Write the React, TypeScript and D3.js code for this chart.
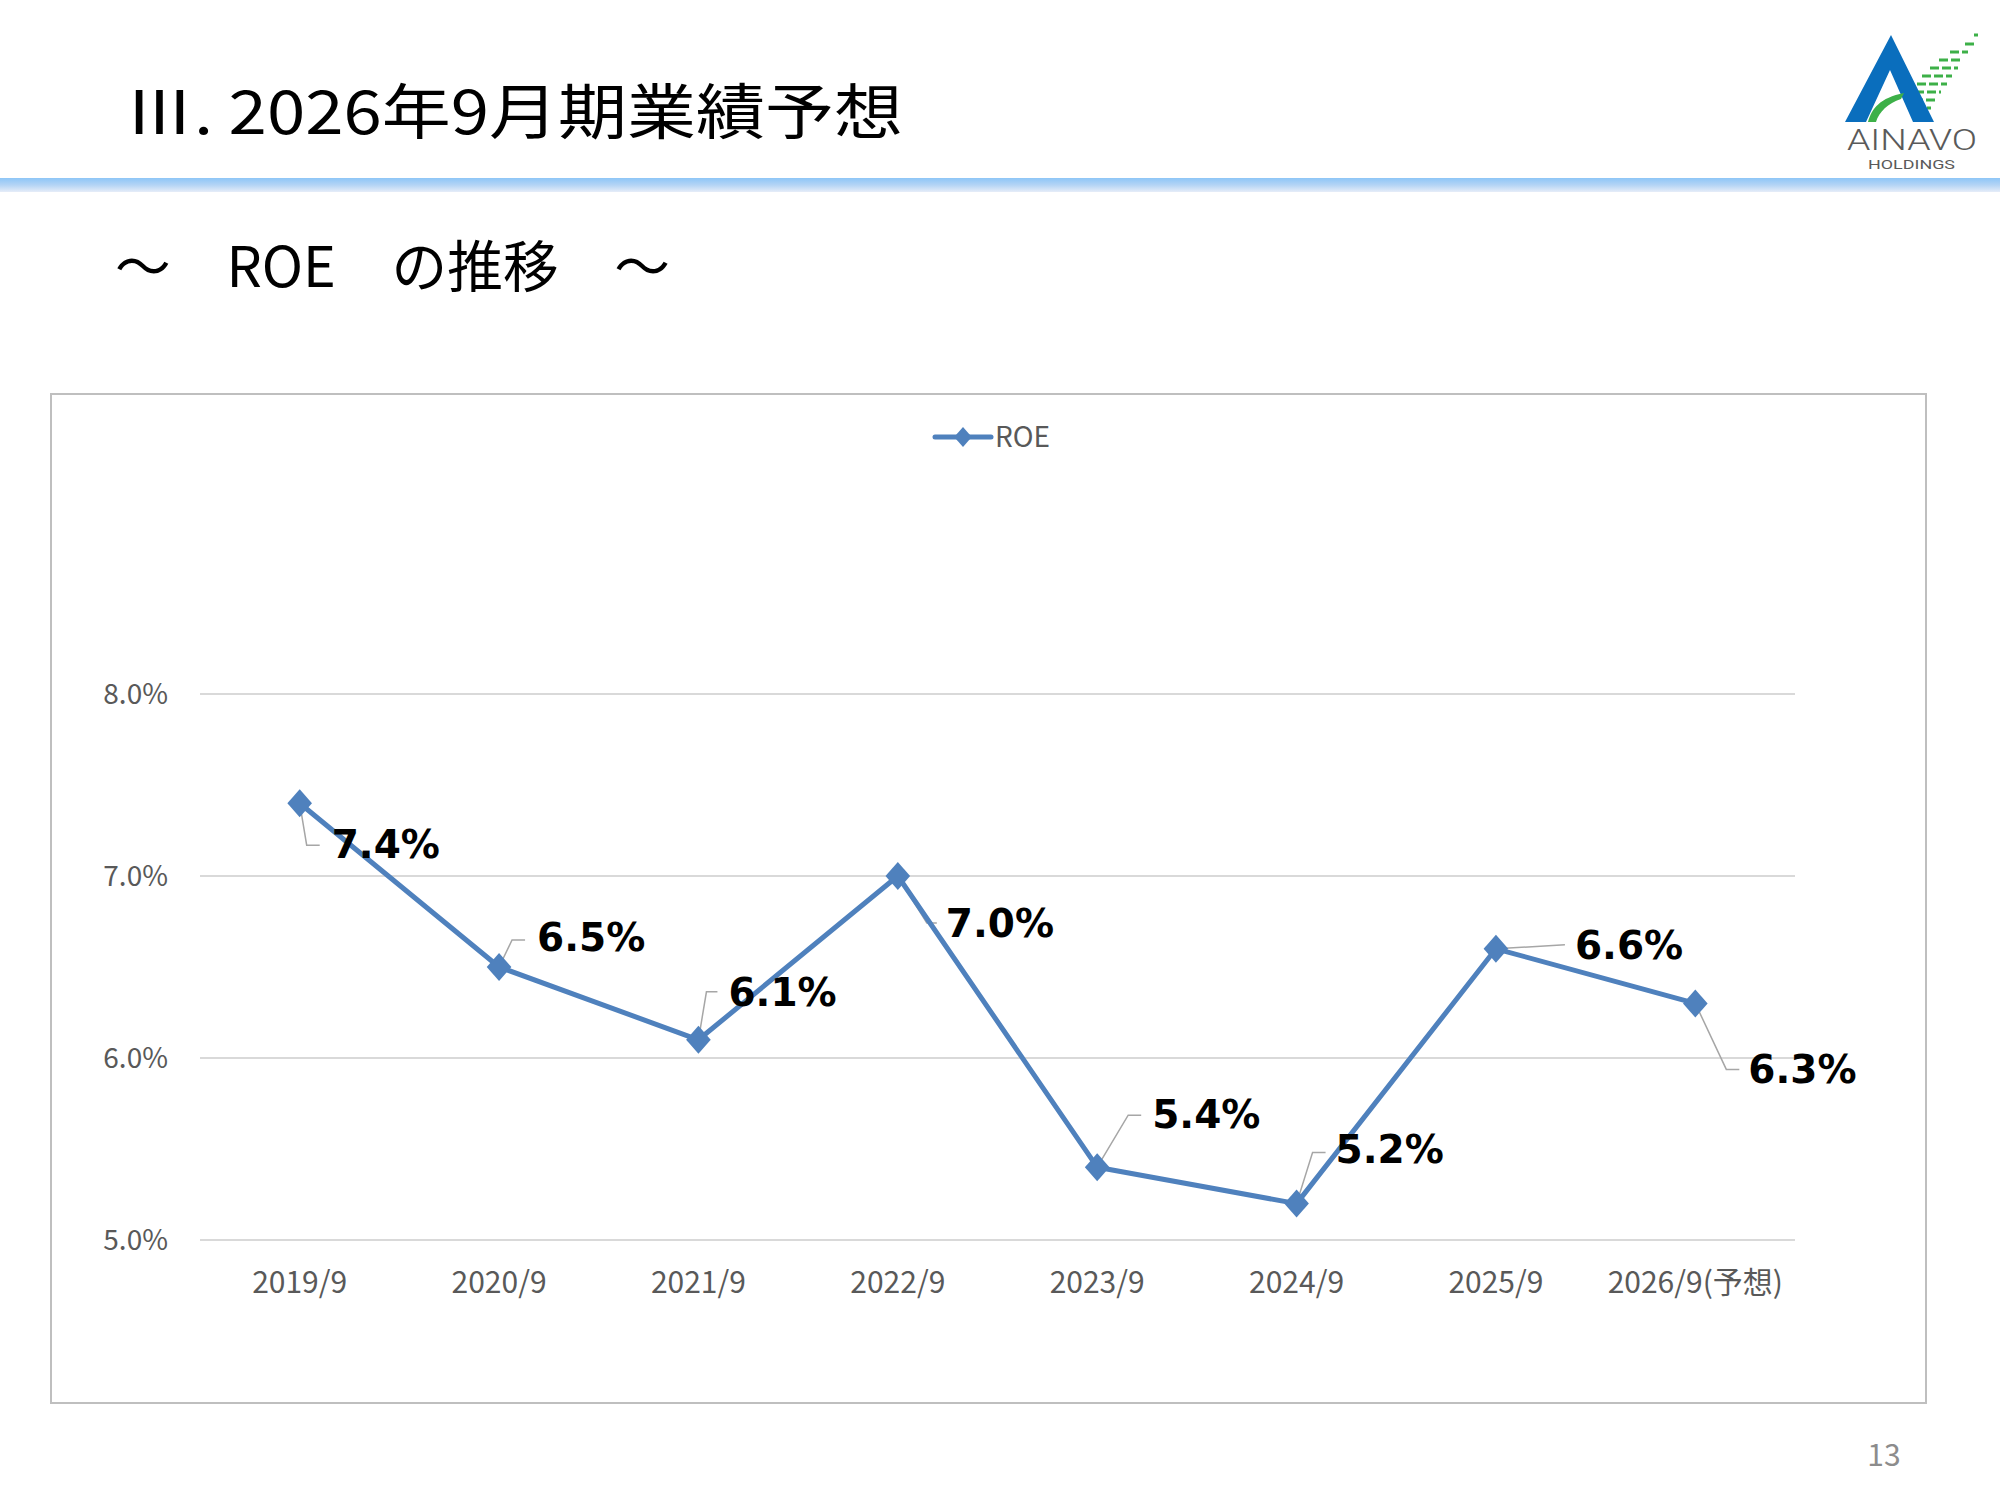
import React from "react";
import * as d3 from "d3";

const categories = ["2019/9", "2020/9", "2021/9", "2022/9", "2023/9", "2024/9", "2025/9", "2026/9(予想)"];
const roeValues = [7.4, 6.5, 6.1, 7.0, 5.4, 5.2, 6.6, 6.3];
const yTicks = [5.0, 6.0, 7.0, 8.0];
const seriesName = "ROE";
const pageTitle = "Ⅲ. 2026年9月期業績予想";
const subTitle = "～　ROE　の推移　～";
const pageNumber = "13";

// label layout offsets relative to each point: [textDx, textDy, elbowDx, elbowDy, endDx, endDy]
const labelLayout = [
  [32, 55, 7, 42, 20, 42],
  [38, -16, 13, -27, 26, -27],
  [30, -34, 8, -48, 19, -48],
  [48, 61, 29, 47, 39, 47],
  [55, -39, 31, -52, 44, -52],
  [39, -41, 16, -51, 29, -51],
  [79, 10, 69, -4, 69, -4],
  [53, 80, 31, 66, 44, 66],
];

const W = 2000, H = 1500;
const plot = { left: 200, right: 1795, top: 694, bottom: 1240 };
const blue = "#4F81BD";

function diamond(cx: number, cy: number, r: number, k = 0.88) {
  return `M${cx},${cy - r}L${cx + r * k},${cy}L${cx},${cy + r}L${cx - r * k},${cy}Z`;
}

export default function App() {
  const x = d3.scalePoint<string>().domain(categories).range([plot.left, plot.right]).padding(0.5);
  const y = d3.scaleLinear().domain([5, 8]).range([plot.bottom, plot.top]);
  const line = d3.line<number>().x((_, i) => x(categories[i]) as number).y((d) => y(d));
  const fmt = d3.format(".1f");

  // logo dashes: [rightX, y, length]
  const dashes = [
  [1978, 35, 4], [1975, 44, 10], [1968, 52, 18], [1963, 60, 24], [1958, 68, 28],
    [1952, 76, 30], [1947, 84, 30], [1941, 92, 26], [1936, 100, 22], [1931, 108, 16], [1926, 116, 10],
  ];

  return (
    <svg width={W} height={H} style={{ position: "absolute", left: 0, top: 0, background: "#fff" }}
      xmlns="http://www.w3.org/2000/svg">
      <defs>
        <linearGradient id="band" x1="0" y1="0" x2="0" y2="1">
          <stop offset="0" stopColor="#8EC6F7" />
          <stop offset="0.5" stopColor="#B4D4F5" />
          <stop offset="1" stopColor="#E6EDF8" />
        </linearGradient>
      </defs>
      <rect x={0} y={0} width={W} height={H} fill="#fff" />

      {/* header */}
      <text x={125} y={134} fontFamily="'Noto Sans CJK JP'" fontSize={60} fill="#000"
        textLength={778} lengthAdjust="spacingAndGlyphs">{pageTitle}</text>
      <rect x={0} y={178} width={W} height={14} fill="url(#band)" />

      {/* logo */}
      <g>
        {dashes.map((d, i) => (
          <line key={i} x1={d[0] - d[2]} x2={d[0]} y1={d[1]} y2={d[1]} stroke="#3DB048" strokeWidth={3} strokeDasharray="9 3" />
        ))}
        <path d="M1891,35 L1845,122 L1866,122 L1890,70 L1913,122 L1934,122 Z" fill="#0A6EBD" />
        <path d="M1868,122 C1872,108 1880,98 1904,93 L1901,99 C1888,103 1879,112 1876,122 Z" fill="#3DB048" />
        <text x={1847} y={150} fontFamily="Roboto, 'Liberation Sans'" fontWeight={300} fontSize={30} fill="#5A5A5A"
          textLength={130} lengthAdjust="spacingAndGlyphs">AINAVO</text>
        <text x={1868} y={169} fontFamily="Roboto, 'Liberation Sans'" fontSize={13} fill="#5A5A5A"
          textLength={87} lengthAdjust="spacingAndGlyphs">HOLDINGS</text>
      </g>

      {/* subtitle */}
      <text x={115} y={287} fontFamily="'Noto Sans CJK JP'" fontSize={56} fill="#000"
        textLength={555} lengthAdjust="spacingAndGlyphs">{subTitle}</text>

      {/* chart frame */}
      <rect x={51} y={394} width={1875} height={1009} fill="#fff" stroke="#BFBFBF" strokeWidth={2} />

      {/* legend */}
      <g>
        <line x1={935} x2={991} y1={437} y2={437} stroke={blue} strokeWidth={5} strokeLinecap="round" />
        <path d={diamond(963, 437, 10)} fill={blue} />
        <text x={995} y={447} fontFamily="'Noto Sans CJK JP'" fontSize={28} fill="#595959">{seriesName}</text>
      </g>

      {/* gridlines + y labels */}
      {yTicks.map((t) => (
        <g key={t}>
          <line x1={plot.left} x2={plot.right} y1={y(t)} y2={y(t)} stroke="#D9D9D9" strokeWidth={2} />
          <text x={168} y={y(t) + 10} textAnchor="end" fontFamily="'Noto Sans CJK JP'" fontSize={28} fill="#595959">
            {fmt(t)}%
          </text>
        </g>
      ))}

      {/* x labels */}
      {categories.map((c) => (
        <text key={c} x={x(c)} y={1293} textAnchor="middle" fontFamily="'Noto Sans CJK JP'" fontSize={30} fill="#595959">
          {c}
        </text>
      ))}

      {/* leader lines */}
      {roeValues.map((v, i) => {
        const px = x(categories[i]) as number, py = y(v);
        const L = labelLayout[i];
        return (
          <polyline key={"ll" + i} fill="none" stroke="#A6A6A6" strokeWidth={1.5}
            points={`${px},${py} ${px + L[2]},${py + L[3]} ${px + L[4]},${py + L[5]}`} />
        );
      })}

      {/* line */}
      <path d={line(roeValues) || ""} fill="none" stroke={blue} strokeWidth={5} strokeLinejoin="round" />
      {roeValues.map((v, i) => (
        <path key={"m" + i} d={diamond(x(categories[i]) as number, y(v), 14)} fill={blue} />
      ))}

      {/* data labels */}
      {roeValues.map((v, i) => {
        const px = x(categories[i]) as number, py = y(v);
        const L = labelLayout[i];
        return (
          <text key={"dl" + i} x={px + L[0]} y={py + L[1]} fontFamily="'DejaVu Sans'" fontWeight="bold"
            fontSize={39} fill="#000">{fmt(v)}%</text>
        );
      })}

      {/* page number */}
      <text x={1884} y={1466} textAnchor="middle" fontFamily="'Noto Sans CJK JP'" fontSize={30} fill="#8C8C8C">
        {pageNumber}
      </text>
    </svg>
  );
}
